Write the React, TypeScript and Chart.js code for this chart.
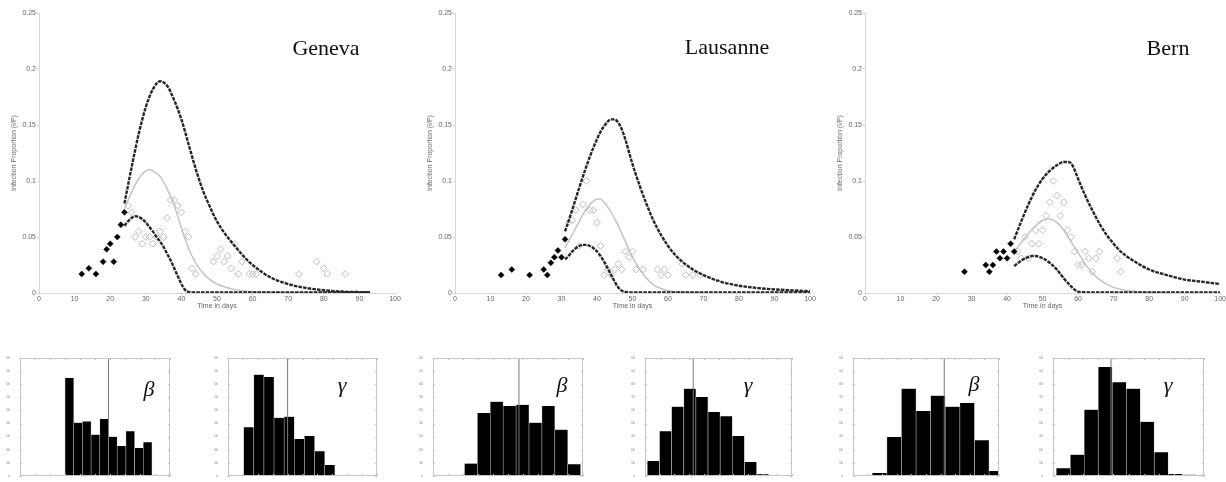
import React, { useEffect, useRef } from 'react';
import { Chart, registerables } from 'chart.js';
Chart.register(...registerables);

// ---------------- tick labels ----------------
const dayTickLabels = ['0', '10', '20', '30', '40', '50', '60', '70', '80', '90', '100'];
const propTickLabels = ['0', '0.05', '0.1', '0.15', '0.2', '0.25'];
const histXTickLabels = ['0', '0.1', '0.2', '0.3', '0.4', '0.5', '0.6', '0.7', '0.8', '0.9', '1'];
const histYTickLabels = ['0', '200', '400', '600', '800', '1000', '1200', '1400', '1600', '1800'];
const cityNames = ['Geneva', 'Lausanne', 'Bern'];

// ---------------- Geneva ----------------
const genevaObsDays = [12, 14, 16, 18, 19, 20, 21, 22, 23, 24];
const genevaObsVals = [0.017, 0.022, 0.017, 0.028, 0.039, 0.044, 0.028, 0.05, 0.061, 0.072];
const genevaValDays = [25, 26, 27, 28, 29, 30, 31, 32, 33, 34, 35, 36, 37, 38, 39, 40, 41, 42, 43, 44, 49, 50, 51, 52, 53, 54, 55, 56, 57, 59, 60, 61, 73, 78, 80, 81, 86];
const genevaValVals = [0.078, 0.072, 0.05, 0.055, 0.044, 0.05, 0.05, 0.044, 0.05, 0.055, 0.05, 0.067, 0.083, 0.083, 0.078, 0.072, 0.055, 0.05, 0.022, 0.017, 0.028, 0.033, 0.039, 0.028, 0.033, 0.022, 0.044, 0.017, 0.028, 0.017, 0.017, 0.017, 0.017, 0.028, 0.022, 0.017, 0.017];
const genevaUpDays = [24, 26, 28, 30, 32, 34, 36, 38, 40, 42, 44, 46, 48, 50, 52, 55, 58, 60, 65, 70, 75, 80, 85, 93];
const genevaUpVals = [0.08, 0.112, 0.142, 0.166, 0.182, 0.189, 0.185, 0.172, 0.155, 0.133, 0.111, 0.092, 0.077, 0.064, 0.054, 0.042, 0.031, 0.025, 0.014, 0.008, 0.0045, 0.0025, 0.0013, 0.0006];
const genevaLoDays = [24, 25, 26, 27, 28, 29, 30, 31, 32, 33, 34, 35, 36, 37, 38, 39, 40, 41, 42, 43, 50, 60, 70, 80, 93];
const genevaLoVals = [0.06, 0.064, 0.067, 0.0685, 0.068, 0.066, 0.063, 0.059, 0.055, 0.05, 0.046, 0.041, 0.035, 0.029, 0.022, 0.015, 0.008, 0.003, 0.0009, 0.0006, 0.0005, 0.0005, 0.0005, 0.0005, 0.0005];
const genevaMidDays = [24, 26, 28, 30, 31, 32, 34, 36, 38, 40, 42, 44, 46, 48, 50, 55, 60, 70, 80, 93];
const genevaMidVals = [0.075, 0.09, 0.102, 0.109, 0.11, 0.109, 0.104, 0.093, 0.078, 0.058, 0.04, 0.027, 0.018, 0.012, 0.008, 0.003, 0.0012, 0.0004, 0.0002, 0.0002];

// ---------------- Lausanne ----------------
const lausObsDays = [13, 16, 21, 25, 26, 27, 28, 29, 30, 31];
const lausObsVals = [0.016, 0.021, 0.016, 0.021, 0.016, 0.027, 0.032, 0.038, 0.032, 0.048];
const lausValDays = [32, 33, 34, 35, 36, 37, 38, 39, 40, 41, 42, 43, 44, 45, 46, 47, 48, 49, 50, 51, 53, 57, 58, 59, 60, 64, 65, 67, 69];
const lausValVals = [0.063, 0.065, 0.074, 0.042, 0.079, 0.1, 0.074, 0.074, 0.063, 0.042, 0.016, 0.021, 0.016, 0.021, 0.026, 0.021, 0.037, 0.032, 0.037, 0.021, 0.021, 0.021, 0.016, 0.021, 0.016, 0.026, 0.016, 0.016, 0.016];
const lausUpDays = [31, 33, 35, 37, 39, 41, 42, 43, 44, 45, 46, 47, 48, 49, 50, 52, 54, 56, 58, 60, 62, 64, 67, 70, 75, 80, 85, 90, 95, 100];
const lausUpVals = [0.055, 0.074, 0.094, 0.113, 0.13, 0.144, 0.149, 0.153, 0.155, 0.155, 0.152, 0.146, 0.137, 0.126, 0.115, 0.096, 0.079, 0.064, 0.052, 0.042, 0.034, 0.028, 0.021, 0.016, 0.01, 0.0065, 0.0045, 0.0032, 0.0023, 0.0015];
const lausLoDays = [31, 32, 33, 34, 35, 36, 37, 38, 39, 40, 41, 42, 43, 44, 45, 46, 47, 48, 50, 60, 70, 80, 90, 100];
const lausLoVals = [0.03, 0.033, 0.037, 0.04, 0.042, 0.043, 0.043, 0.042, 0.04, 0.037, 0.033, 0.028, 0.022, 0.016, 0.01, 0.005, 0.002, 0.001, 0.0005, 0.0005, 0.0005, 0.0005, 0.0005, 0.0005];
const lausMidDays = [31, 33, 35, 37, 39, 40, 41, 42, 44, 46, 48, 50, 52, 54, 56, 58, 60, 65, 70];
const lausMidVals = [0.04, 0.052, 0.064, 0.075, 0.082, 0.084, 0.084, 0.081, 0.072, 0.06, 0.046, 0.032, 0.021, 0.013, 0.007, 0.004, 0.002, 0.0005, 0.0002];

// ---------------- Bern ----------------
const bernObsDays = [28, 34, 35, 36, 37, 38, 39, 40, 41, 42];
const bernObsVals = [0.019, 0.025, 0.019, 0.025, 0.037, 0.031, 0.037, 0.031, 0.044, 0.037];
const bernValDays = [43, 44, 45, 46, 47, 48, 49, 50, 51, 52, 53, 54, 55, 56, 57, 58, 59, 60, 61, 62, 63, 64, 65, 66, 71, 72];
const bernValVals = [0.037, 0.031, 0.05, 0.031, 0.044, 0.056, 0.044, 0.056, 0.069, 0.081, 0.1, 0.087, 0.069, 0.081, 0.056, 0.05, 0.037, 0.025, 0.025, 0.037, 0.031, 0.019, 0.031, 0.037, 0.031, 0.019];
const bernUpDays = [42, 44, 46, 48, 50, 52, 54, 56, 57, 58, 59, 60, 62, 64, 66, 68, 70, 72, 75, 80, 85, 90, 95, 100];
const bernUpVals = [0.048, 0.064, 0.079, 0.092, 0.102, 0.109, 0.114, 0.117, 0.117, 0.116, 0.11, 0.102, 0.087, 0.074, 0.062, 0.052, 0.044, 0.037, 0.03, 0.021, 0.016, 0.012, 0.01, 0.008];
const bernLoDays = [42, 44, 46, 47, 48, 50, 52, 54, 56, 58, 59, 60, 62, 70, 80, 90, 100];
const bernLoVals = [0.024, 0.029, 0.032, 0.033, 0.033, 0.031, 0.027, 0.021, 0.013, 0.006, 0.003, 0.0012, 0.0006, 0.0005, 0.0005, 0.0005, 0.0005];
const bernMidDays = [42, 44, 46, 48, 50, 52, 54, 56, 58, 60, 62, 64, 66, 68, 70, 74, 78, 85];
const bernMidVals = [0.037, 0.045, 0.053, 0.06, 0.065, 0.066, 0.063, 0.056, 0.046, 0.036, 0.026, 0.018, 0.012, 0.008, 0.005, 0.002, 0.001, 0.0003];

// ---------------- histograms (bin centres, counts, marker) ----------------
const genevaBetaBins = [0.329, 0.387, 0.445, 0.503, 0.561, 0.619, 0.677, 0.735, 0.793, 0.851];
const genevaBetaCounts = [1494, 814, 833, 630, 869, 599, 457, 682, 427, 513];
const genevaBetaMark = 0.59;
const genevaGammaBins = [0.139, 0.207, 0.275, 0.343, 0.411, 0.479, 0.547, 0.615, 0.683, 0.751];
const genevaGammaCounts = [742, 1546, 1510, 889, 905, 565, 610, 376, 167, 11];
const genevaGammaMark = 0.4;
const lausBetaBins = [0.253, 0.339, 0.425, 0.511, 0.597, 0.683, 0.769, 0.855, 0.941];
const lausBetaCounts = [189, 961, 1134, 1067, 1087, 814, 1067, 707, 178];
const lausBetaMark = 0.573;
const lausGammaBins = [0.057, 0.14, 0.222, 0.305, 0.387, 0.47, 0.553, 0.635, 0.718, 0.8];
const lausGammaCounts = [229, 682, 1058, 1332, 1204, 976, 911, 610, 214, 25];
const lausGammaMark = 0.328;
const bernBetaBins = [0.182, 0.282, 0.382, 0.482, 0.582, 0.682, 0.782, 0.882, 0.982];
const bernBetaCounts = [45, 596, 1332, 992, 1226, 1058, 1114, 544, 76];
const bernBetaMark = 0.625;
const bernGammaBins = [0.068, 0.161, 0.253, 0.346, 0.439, 0.532, 0.624, 0.717, 0.81, 0.902];
const bernGammaCounts = [117, 326, 1012, 1663, 1429, 1332, 828, 362, 31, 20];
const bernGammaMark = 0.384;

Chart.defaults.font.family = "'Liberation Sans', Arial, sans-serif";
Chart.defaults.color = '#666';

const pts = (d: number[], v: number[]) => d.map((x, i) => ({ x, y: v[i] }));

type TopProps = {
  left: number; width: number; padRight: number;
  obsD: number[]; obsV: number[]; valD: number[]; valV: number[];
  upD: number[]; upV: number[]; loD: number[]; loV: number[]; midD: number[]; midV: number[];
};

function TopPanel(p: TopProps) {
  const ref = useRef<HTMLCanvasElement>(null);
  useEffect(() => {
    const curve = (d: number[], v: number[], dashed: boolean, order: number) => ({
      data: pts(d, v),
      showLine: true,
      borderColor: dashed ? '#262626' : '#c4c4c4',
      borderWidth: dashed ? 2.4 : 1.5,
      borderDash: dashed ? [3.6, 1.1] : [],
      pointRadius: 0,
      cubicInterpolationMode: 'monotone' as const,
      fill: false,
      order,
    });
    const chart = new Chart(ref.current!, {
      type: 'scatter',
      data: {
        datasets: [
          {
            data: pts(p.obsD, p.obsV), pointStyle: 'rectRot', pointRadius: 3,
            pointBackgroundColor: '#000', pointBorderColor: '#000', pointBorderWidth: 0.5, order: 0,
          },
          curve(p.upD, p.upV, true, 1),
          curve(p.loD, p.loV, true, 1),
          {
            data: pts(p.valD, p.valV), pointStyle: 'rectRot', pointRadius: 3.4,
            pointBackgroundColor: 'rgba(255,255,255,0)', pointBorderColor: '#bdbdbd', pointBorderWidth: 1, order: 2,
          },
          curve(p.midD, p.midV, false, 3),
        ] as any,
      },
      options: {
        animation: false,
        responsive: false,
        devicePixelRatio: 1,
        layout: { padding: { top: 13, right: p.padRight, left: 0, bottom: 0 } },
        plugins: { legend: { display: false }, tooltip: { enabled: false } },
        scales: {
          x: {
            type: 'linear', min: 0, max: 100,
            afterFit: (s: any) => { s.height = 19; },
            border: { display: true, color: '#d6d6d6', width: 1 },
            grid: { display: true, drawOnChartArea: false, drawTicks: true, tickLength: 2, color: '#d6d6d6' },
            ticks: {
              stepSize: 10, padding: 0, autoSkip: false, maxRotation: 0,
              font: { size: 7 }, color: '#666',
              callback: (_v: any, i: number) => dayTickLabels[i],
            },
            title: { display: true, text: 'Time in days', font: { size: 7 }, color: '#666', padding: { top: 0, bottom: 2 } },
          },
          y: {
            type: 'linear', min: 0, max: 0.25,
            afterFit: (s: any) => { s.width = 39; },
            border: { display: true, color: '#d6d6d6', width: 1 },
            grid: { display: true, drawOnChartArea: false, drawTicks: true, tickLength: 2, color: '#d6d6d6' },
            ticks: {
              stepSize: 0.05, padding: 1, autoSkip: false,
              font: { size: 7 }, color: '#666',
              callback: (_v: any, i: number) => propTickLabels[i],
            },
            title: { display: true, text: 'Infection Proportion (I/P)', font: { size: 7 }, color: '#666', padding: { top: 10, bottom: 0 } },
          },
        },
      } as any,
    });
    return () => chart.destroy();
  }, []);
  return (
    <canvas ref={ref} width={p.width} height={312}
      style={{ position: 'absolute', left: p.left, top: 0, display: 'block' }} />
  );
}

const frameBox = {
  id: 'frameBox',
  afterDatasetsDraw(chart: any) {
    const { ctx, chartArea: a, scales } = chart;
    ctx.save();
    ctx.strokeStyle = '#c4c4c4';
    ctx.lineWidth = 1;
    ctx.strokeRect(Math.round(a.left) + 0.5, Math.round(a.top) + 0.5, Math.round(a.right - a.left) - 1, Math.round(a.bottom - a.top) - 1);
    ctx.beginPath();
    scales.x.ticks.forEach((_t: any, i: number) => {
      const x = Math.round(scales.x.getPixelForTick(i)) + 0.5;
      ctx.moveTo(x, a.bottom); ctx.lineTo(x, a.bottom - 2);
      ctx.moveTo(x, a.top); ctx.lineTo(x, a.top + 2);
    });
    scales.y.ticks.forEach((_t: any, i: number) => {
      const y = Math.round(scales.y.getPixelForTick(i)) + 0.5;
      ctx.moveTo(a.left, y); ctx.lineTo(a.left + 2, y);
      ctx.moveTo(a.right, y); ctx.lineTo(a.right - 2, y);
    });
    ctx.stroke();
    ctx.restore();
  },
};

type HistProps = { L: number; R: number; bins: number[]; counts: number[]; mark: number };

function Hist({ L, R, bins, counts, mark }: HistProps) {
  const ref = useRef<HTMLCanvasElement>(null);
  const width = R - L + 18;
  useEffect(() => {
    const chart = new Chart(ref.current!, {
      type: 'bar',
      data: {
        datasets: [
          {
            type: 'line', data: [{ x: mark, y: 0 }, { x: mark, y: 1800 }],
            borderColor: '#7a7a7a', borderWidth: 1, pointRadius: 0, order: 0,
          },
          {
            data: pts(bins, counts), backgroundColor: '#000',
            borderColor: '#b8b8b8', borderWidth: { left: 0.6, right: 0.6, top: 0, bottom: 0 },
            barPercentage: 1, categoryPercentage: 1, order: 1,
          },
        ] as any,
      },
      options: {
        animation: false,
        responsive: false,
        devicePixelRatio: 1,
        layout: { padding: { top: 4, right: 4, left: 0, bottom: 0 } },
        plugins: { legend: { display: false }, tooltip: { enabled: false } },
        scales: {
          x: {
            type: 'linear', min: 0, max: 1, offset: false,
            afterFit: (s: any) => { s.height = 6; },
            border: { display: false },
            grid: { display: false, offset: false },
            ticks: {
              stepSize: 0.1, padding: 1, autoSkip: false, maxRotation: 0,
              font: { size: 3 }, color: '#888',
              callback: (_v: any, i: number) => histXTickLabels[i],
            },
          },
          y: {
            type: 'linear', min: 0, max: 1800,
            afterFit: (s: any) => { s.width = 14; },
            border: { display: false },
            grid: { display: false },
            ticks: {
              stepSize: 200, padding: 2, autoSkip: false,
              font: { size: 3 }, color: '#888',
              callback: (_v: any, i: number) => histYTickLabels[i],
            },
          },
        },
      } as any,
      plugins: [frameBox],
    });
    return () => chart.destroy();
  }, []);
  return (
    <canvas ref={ref} width={width} height={128}
      style={{ position: 'absolute', left: L - 14, top: 354, display: 'block' }} />
  );
}

const titleStyle = (cx: number, cy: number): React.CSSProperties => ({
  position: 'absolute', left: cx, top: cy, transform: 'translate(-50%, -50%)',
  fontFamily: "'Liberation Serif', 'Times New Roman', serif", fontSize: 22, lineHeight: '22px',
  color: '#111', whiteSpace: 'nowrap',
});
const greekStyle = (cx: number, cy: number): React.CSSProperties => ({
  position: 'absolute', left: cx, top: cy, transform: 'translate(-50%, -50%)',
  fontFamily: "'Liberation Serif', 'Times New Roman', serif", fontStyle: 'italic', fontSize: 22,
  lineHeight: '22px', color: '#111', whiteSpace: 'nowrap',
});

export default function App() {
  return (
    <div style={{ position: 'absolute', left: 0, top: 0, width: 1226, height: 482, background: '#fff', overflow: 'hidden' }}>
      <TopPanel left={0} width={405} padRight={10}
        obsD={genevaObsDays} obsV={genevaObsVals} valD={genevaValDays} valV={genevaValVals}
        upD={genevaUpDays} upV={genevaUpVals} loD={genevaLoDays} loV={genevaLoVals} midD={genevaMidDays} midV={genevaMidVals} />
      <TopPanel left={416} width={404} padRight={10}
        obsD={lausObsDays} obsV={lausObsVals} valD={lausValDays} valV={lausValVals}
        upD={lausUpDays} upV={lausUpVals} loD={lausLoDays} loV={lausLoVals} midD={lausMidDays} midV={lausMidVals} />
      <TopPanel left={826} width={400} padRight={5}
        obsD={bernObsDays} obsV={bernObsVals} valD={bernValDays} valV={bernValVals}
        upD={bernUpDays} upV={bernUpVals} loD={bernLoDays} loV={bernLoVals} midD={bernMidDays} midV={bernMidVals} />

      <div style={titleStyle(326, 47.5)}>{cityNames[0]}</div>
      <div style={titleStyle(727, 47)}>{cityNames[1]}</div>
      <div style={titleStyle(1168, 48)}>{cityNames[2]}</div>

      <Hist L={20} R={170} bins={genevaBetaBins} counts={genevaBetaCounts} mark={genevaBetaMark} />
      <Hist L={228} R={377} bins={genevaGammaBins} counts={genevaGammaCounts} mark={genevaGammaMark} />
      <Hist L={433} R={583} bins={lausBetaBins} counts={lausBetaCounts} mark={lausBetaMark} />
      <Hist L={645} R={792} bins={lausGammaBins} counts={lausGammaCounts} mark={lausGammaMark} />
      <Hist L={853} R={999} bins={bernBetaBins} counts={bernBetaCounts} mark={bernBetaMark} />
      <Hist L={1053} R={1204} bins={bernGammaBins} counts={bernGammaCounts} mark={bernGammaMark} />

      <div style={greekStyle(149, 388.5)}>β</div>
      <div style={greekStyle(342, 385)}>γ</div>
      <div style={greekStyle(562, 385)}>β</div>
      <div style={greekStyle(748, 385)}>γ</div>
      <div style={greekStyle(974, 384)}>β</div>
      <div style={greekStyle(1168, 385)}>γ</div>
    </div>
  );
}
